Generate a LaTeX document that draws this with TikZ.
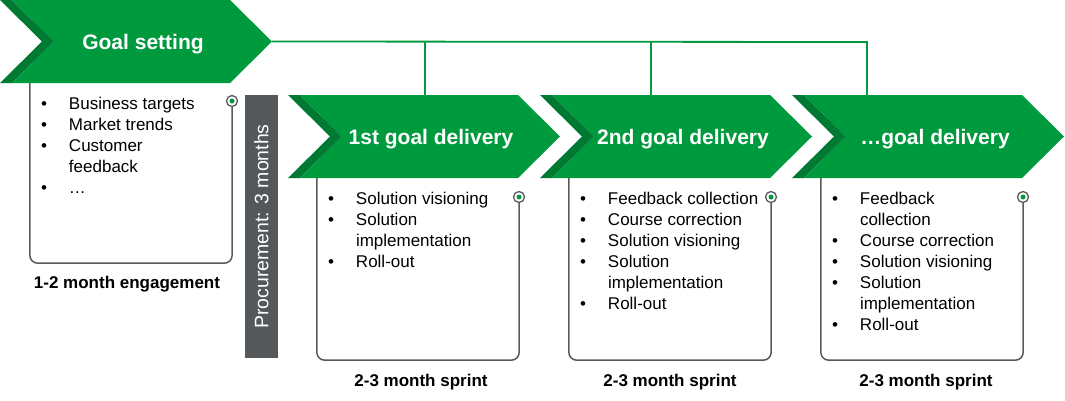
\documentclass[tikz,border=0pt]{standalone}
\usepackage{fontspec}
\setmainfont{Liberation Sans}
\usetikzlibrary{calc}

\definecolor{mygreen}{HTML}{009A3E}
\definecolor{darkgreen}{HTML}{007A33}
\definecolor{procgray}{HTML}{54585A}
\definecolor{linegray}{HTML}{5A5A5A}

% chevron: x, y (top left), name, title
\newcommand{\chevron}[4]{%
  \fill[darkgreen] (#1,#2) -- ++(12,0) -- ++(42,41.5) -- ++(-42,41.5) -- ++(-12,0) -- ++(42,-41.5) -- cycle;
  \fill[mygreen] (#1+12,#2) -- ++(218,0) -- ++(42,41.5) -- ++(-42,41.5) -- ++(-218,0) -- ++(42,-41.5) -- cycle;
  \coordinate (#3-nw) at (#1,#2);
  \coordinate (#3-tip) at (#1+272,#2+41.5);
  \node[title] (#3) at (#1+143,#2+44) {#4};
}

\tikzset{
  title/.style={text=white, font=\fontsize{21}{25}\selectfont\bfseries, inner sep=0pt},
  panel/.style={rectangle, minimum width=202pt, inner sep=0pt},
  items/.style={anchor=base west, inner sep=0pt, font=\fontsize{17}{21}\selectfont},
  caption/.style={anchor=base, inner sep=0pt, font=\fontsize{17}{21}\selectfont\bfseries},
  frame/.style={draw=linegray, line width=1.5pt, rounded corners=8pt},
  pin/.style={circle, draw=linegray, fill=white, line width=1.3pt, minimum size=11pt, inner sep=0pt},
  link/.style={draw=mygreen, line width=1.8pt},
  proc/.style={fill=procgray, text=white, minimum width=263pt, minimum height=33pt, inner sep=0pt,
    font=\fontsize{19.5}{22}\selectfont},
}

\begin{document}
\begin{tikzpicture}[x=1pt, y=-1pt]
  \useasboundingbox (0,0) rectangle (1065,400);

  % boxes
  \node[panel, minimum height=180pt] (b0) at (131,173) {};
  \node[panel, minimum height=182pt] (b1) at (418,269) {};
  \node[panel, minimum height=182pt] (b2) at (670,269) {};
  \node[panel, minimum height=182pt] (b3) at (922,269) {};

  \node[pin] (c0) at (232,101) {};
  \node[pin] (c1) at (519,197) {};
  \node[pin] (c2) at (771,197) {};
  \node[pin] (c3) at (1023,197) {};

  \draw[frame] (b0.north west) -- (b0.south west) -- (b0.south east) -- (c0.south);
  \draw[frame] (b1.north west) -- (b1.south west) -- (b1.south east) -- (c1.south);
  \draw[frame] (b2.north west) -- (b2.south west) -- (b2.south east) -- (c2.south);
  \draw[frame] (b3.north west) -- (b3.south west) -- (b3.south east) -- (c3.south);

  \fill[mygreen] (c0) circle (2.5pt);
  \fill[mygreen] (c1) circle (2.5pt);
  \fill[mygreen] (c2) circle (2.5pt);
  \fill[mygreen] (c3) circle (2.5pt);

  % chevrons
  \chevron{0}{0}{goal}{Goal setting}
  \chevron{288}{95}{d1}{1st goal delivery}
  \chevron{540}{95}{d2}{2nd goal delivery}
  \chevron{792}{95}{d3}{\dots goal delivery}

  % links
  \coordinate (j1) at (425,42);
  \coordinate (j2) at (651,42);
  \coordinate (j3) at (867,42);
  \draw[link] (goal-tip) -- (j3) -- (j3 |- d3-nw);
  \draw[link] (j1) -- (j1 |- d1-nw);
  \draw[link] (j2) -- (j2 |- d2-nw);

  % procurement
  \node[proc, rotate=90] (proc) at (261.5,226.5) {Procurement: 3 months};

  % lists
  \node[items] (t0) at ($(b0.north west)+(11,27)$) {\begin{tabular}[t]{@{}p{28pt}@{}l@{}}
    \textbullet & Business targets\\
    \textbullet & Market trends\\
    \textbullet & Customer\\
                & feedback\\
    \textbullet & \dots
  \end{tabular}};
  \node[items] (t1) at ($(b1.north west)+(11,27)$) {\begin{tabular}[t]{@{}p{28pt}@{}l@{}}
    \textbullet & Solution visioning\\
    \textbullet & Solution\\
                & implementation\\
    \textbullet & Roll-out
  \end{tabular}};
  \node[items] (t2) at ($(b2.north west)+(11,27)$) {\begin{tabular}[t]{@{}p{28pt}@{}l@{}}
    \textbullet & Feedback collection\\
    \textbullet & Course correction\\
    \textbullet & Solution visioning\\
    \textbullet & Solution\\
                & implementation\\
    \textbullet & Roll-out
  \end{tabular}};
  \node[items] (t3) at ($(b3.north west)+(11,27)$) {\begin{tabular}[t]{@{}p{28pt}@{}l@{}}
    \textbullet & Feedback\\
                & collection\\
    \textbullet & Course correction\\
    \textbullet & Solution visioning\\
    \textbullet & Solution\\
                & implementation\\
    \textbullet & Roll-out
  \end{tabular}};

  % captions
  \node[caption] (l0) at ($(b0.south)+(-4,25)$) {1-2 month engagement};
  \node[caption] (l1) at ($(b1.south)+(3,26)$) {2-3 month sprint};
  \node[caption] (l2) at ($(b2.south)+(0,26)$) {2-3 month sprint};
  \node[caption] (l3) at ($(b3.south)+(4,26)$) {2-3 month sprint};
\end{tikzpicture}
\end{document}
